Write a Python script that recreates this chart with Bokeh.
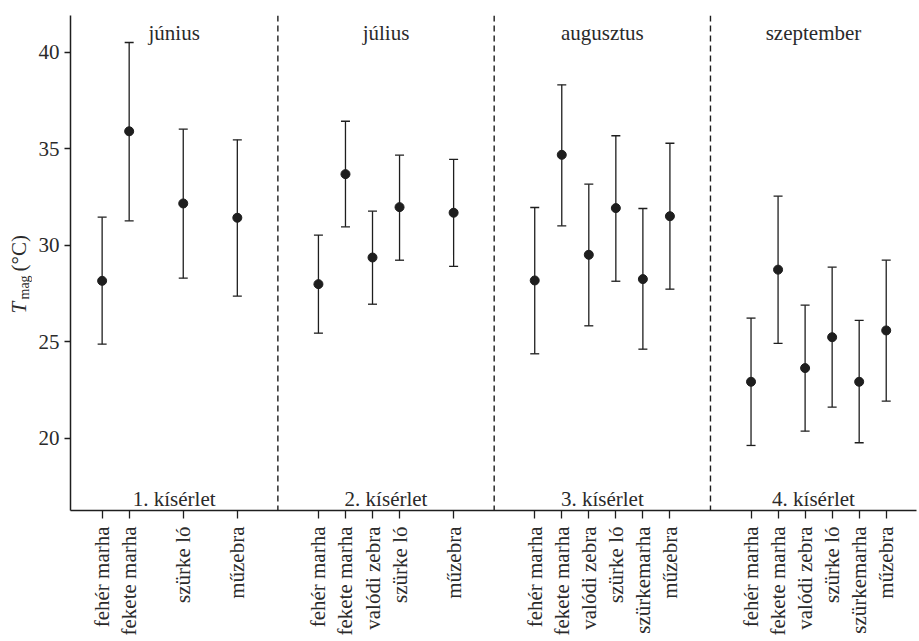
import math
from bokeh.plotting import figure
from bokeh.layouts import row
from bokeh.models import ColumnDataSource, Whisker, TeeHead, FixedTicker, Span, Label, Range1d
from bokeh.core.properties import value
from bokeh.embed import file_html
from bokeh.resources import INLINE

# ---- data -------------------------------------------------------------
slot_order = ["fehér marha", "fekete marha", "valódi zebra", "szürke ló", "szürkemarha", "műzebra"]
months = ["június", "július", "augusztus", "szeptember"]
experiments = ["1. kísérlet", "2. kísérlet", "3. kísérlet", "4. kísérlet"]

exp1_cats = ["fehér marha", "fekete marha", "szürke ló", "műzebra"]
exp1_mean = [28.15, 35.90, 32.16, 31.42]
exp1_low = [24.87, 31.26, 28.29, 27.36]
exp1_high = [31.45, 40.50, 36.01, 35.46]

exp2_cats = ["fehér marha", "fekete marha", "valódi zebra", "szürke ló", "műzebra"]
exp2_mean = [27.98, 33.68, 29.36, 31.97, 31.68]
exp2_low = [25.44, 30.95, 26.94, 29.22, 28.90]
exp2_high = [30.52, 36.42, 31.76, 34.66, 34.44]

exp3_cats = ["fehér marha", "fekete marha", "valódi zebra", "szürke ló", "szürkemarha", "műzebra"]
exp3_mean = [28.17, 34.68, 29.50, 31.92, 28.24, 31.50]
exp3_low = [24.37, 31.00, 25.82, 28.13, 24.61, 27.72]
exp3_high = [31.95, 38.31, 33.16, 35.67, 31.90, 35.28]

exp4_cats = ["fehér marha", "fekete marha", "valódi zebra", "szürke ló", "szürkemarha", "műzebra"]
exp4_mean = [22.92, 28.73, 23.63, 25.23, 22.92, 25.58]
exp4_low = [19.62, 24.91, 20.36, 21.61, 19.76, 21.92]
exp4_high = [26.22, 32.54, 26.89, 28.86, 26.10, 29.22]

y_ticks = [20, 25, 30, 35, 40]

# ---- layout helpers ----------------------------------------------------
FONT = "Liberation Serif"
INK = "#1e1e1e"
TXT = "#2a2a2a"
GROUP_W = 8  # slots per experiment block (6 categories + gap)
TOTAL_H = 640
TITLE_W = 32
TOP, BOTTOM = 15, 130
FRAME_H = TOTAL_H - TOP - BOTTOM

groups = [
    (exp1_cats, exp1_mean, exp1_low, exp1_high),
    (exp2_cats, exp2_mean, exp2_low, exp2_high),
    (exp3_cats, exp3_mean, exp3_low, exp3_high),
    (exp4_cats, exp4_mean, exp4_low, exp4_high),
]

xs, means, lows, highs, names = [], [], [], [], []
for g, (cats, m, lo, hi) in enumerate(groups):
    for c, mv, lv, hv in zip(cats, m, lo, hi):
        xs.append(g * GROUP_W + slot_order.index(c))
        means.append(mv)
        lows.append(lv)
        highs.append(hv)
        names.append(c)

src = ColumnDataSource(dict(x=xs, mean=means, lower=lows, upper=highs))

x_start, x_end = -1.17, 30.12
y_start, y_end = 16.25, 41.9

p = figure(width=917 - TITLE_W, height=TOTAL_H, output_backend="svg", toolbar_location=None,
           x_range=(x_start, x_end), y_range=Range1d(y_start, y_end),
           min_border_left=70 - TITLE_W, min_border_right=1, min_border_top=TOP,
           min_border_bottom=BOTTOM)
p.outline_line_color = None
p.background_fill_color = "white"
p.border_fill_color = "white"
p.xgrid.visible = False
p.ygrid.visible = False

# separators
seps = [g * GROUP_W - 1.5 for g in range(1, len(groups))]
for s in seps:
    p.add_layout(Span(location=s, dimension="height", line_color=INK,
                      line_width=1.4, line_dash="6 4"))

# error bars
w = Whisker(base="x", lower="lower", upper="upper", dimension="height", source=src,
            line_color=INK, line_width=1.3,
            upper_head=TeeHead(size=9, line_color=INK, line_width=1.3),
            lower_head=TeeHead(size=9, line_color=INK, line_width=1.3))
p.add_layout(w)
p.scatter("x", "mean", source=src, size=9, color=INK)

# axes
xa = p.xaxis[0]
xa.ticker = FixedTicker(ticks=xs, minor_ticks=[])
xa.major_label_overrides = {x: n for x, n in zip(xs, names)}
xa.major_label_orientation = math.pi / 2
xa.major_tick_out = 8
xa.major_tick_in = 0
xa.minor_tick_line_color = None
xa.axis_line_width = 1.5
xa.axis_line_color = INK
xa.major_tick_line_color = INK
xa.major_tick_line_width = 1.3
xa.major_label_text_font = FONT
xa.major_label_text_font_size = "21px"
xa.major_label_text_color = TXT
xa.major_label_standoff = 8

ya = p.yaxis[0]
ya.ticker = FixedTicker(ticks=y_ticks, minor_ticks=[])
ya.major_tick_out = 6
ya.major_tick_in = 0
ya.minor_tick_line_color = None
ya.axis_line_width = 1.5
ya.axis_line_color = INK
ya.major_tick_line_color = INK
ya.major_tick_line_width = 1.3
ya.major_label_text_font = FONT
ya.major_label_text_font_size = "21px"
ya.major_label_text_color = TXT
ya.major_label_standoff = 5

# month and experiment labels (centred in each block)
bounds = [x_start] + seps + [x_end]
for i in range(len(groups)):
    cx = (bounds[i] + bounds[i + 1]) / 2
    p.add_layout(Label(x=cx, y=478, x_units="data", y_units="screen", text=months[i],
                       text_align="center", text_baseline="alphabetic",
                       text_font=FONT, text_font_size="21px", text_color=TXT))
    p.add_layout(Label(x=cx, y=12, x_units="data", y_units="screen", text=experiments[i],
                       text_align="center", text_baseline="alphabetic",
                       text_font=FONT, text_font_size="21px", text_color=TXT))

# y axis title panel: T_mag (°C) -- frames of a row are aligned, so share the y range
t = figure(width=TITLE_W, height=TOTAL_H, output_backend="svg", toolbar_location=None,
           x_range=Range1d(0, TITLE_W), y_range=Range1d(y_start, y_end),
           x_axis_location=None, y_axis_location=None,
           min_border_left=0, min_border_right=0, min_border_top=TOP,
           min_border_bottom=BOTTOM)
t.outline_line_color = None
t.background_fill_color = "white"
t.border_fill_color = "white"
t.xgrid.visible = False
t.ygrid.visible = False


def page_y(py):
    """vertical pixel position (from top of page) -> y data value"""
    return y_end - (py - TOP) * (y_end - y_start) / FRAME_H


common = dict(angle=math.pi / 2, text_align="left", text_baseline="middle",
              text_font=value(FONT), text_color=TXT)
t.text(x=[18.5], y=[page_y(313)], text=["T"], text_font_style="italic",
       text_font_size="21px", **common)
t.text(x=[24], y=[page_y(299)], text=["mag"], text_font_size="14px", **common)
t.text(x=[18.5], y=[page_y(271)], text=["(°C)"], text_font_size="21px", **common)

layout = row(t, p, spacing=0)
open("out.html", "w").write(file_html(layout, INLINE))
